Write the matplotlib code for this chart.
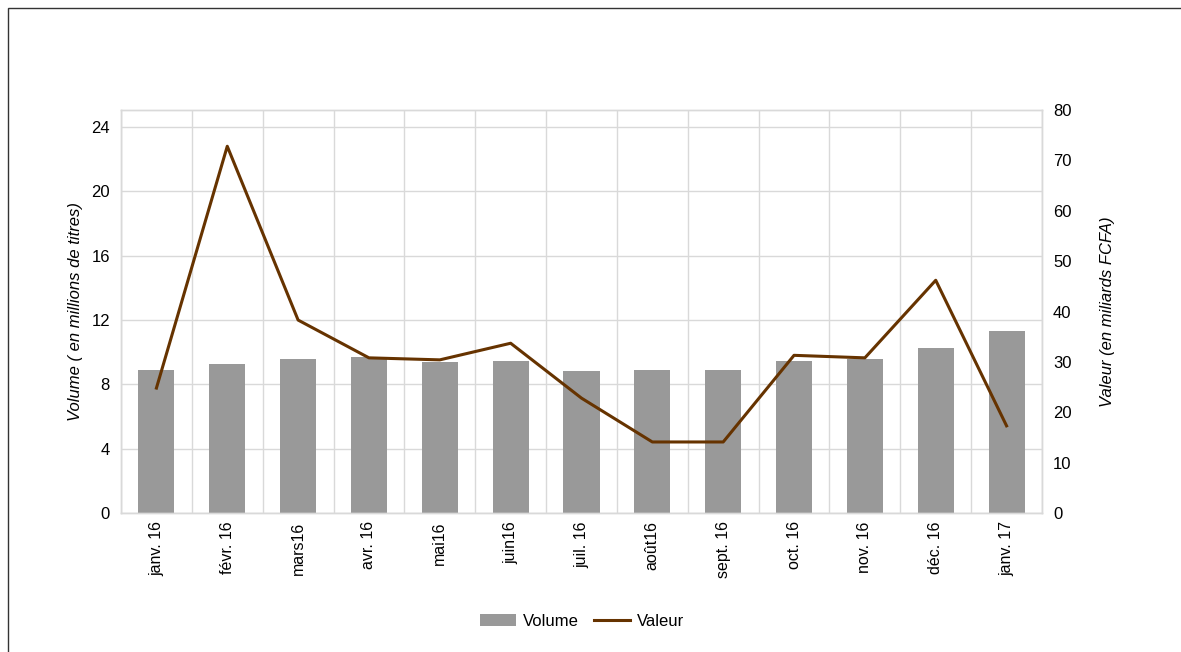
import matplotlib
matplotlib.use("Agg")
import matplotlib.pyplot as plt
from matplotlib.patches import Rectangle
import numpy as np

plt.rcParams['font.family'] = ['Liberation Sans', 'DejaVu Sans']

categories = ["janv. 16", "févr. 16", "mars16", "avr. 16", "mai16", "juin16", "juil. 16",
              "août16", "sept. 16", "oct. 16", "nov. 16", "déc. 16", "janv. 17"]
volume = [8.89, 9.27, 9.58, 9.70, 9.39, 9.45, 8.83, 8.89, 8.89, 9.45, 9.58, 10.26, 11.32]
valeur = [24.8, 72.8, 38.3, 30.8, 30.4, 33.7, 22.8, 14.1, 14.1, 31.3, 30.8, 46.2, 17.3]
left_ticks = [0, 4, 8, 12, 16, 20, 24]
right_ticks = [0, 10, 20, 30, 40, 50, 60, 70, 80]

W, H = 1181, 652
fig = plt.figure(figsize=(W / 100, H / 100), dpi=100)
ax = fig.add_axes([121 / W, 1 - 513 / H, (1042 - 121) / W, (513 - 110) / H])
ax2 = ax.twinx()

grid_c = "#d9d9d9"
x = np.arange(len(categories))
ax.bar(x, volume, width=0.51, color="#999999", zorder=2, label="Volume")
ax2.plot(x, valeur, color="#663300", lw=2.2, zorder=3, label="Valeur")

ax.set_xlim(-0.5, len(categories) - 0.5)
ax.set_ylim(0, 25.06)
ax2.set_ylim(0, 80)
ax.set_yticks(left_ticks)
ax2.set_yticks(right_ticks)
ax.set_xticks(x)
ax.set_xticklabels(categories, rotation=90, fontsize=11.5)
ax.set_xticks(np.arange(-0.5, len(categories)), minor=True)
ax.tick_params(axis='x', which='major', length=0, pad=6)
ax.tick_params(axis='x', which='minor', length=0)
ax.tick_params(axis='y', length=0, labelsize=12, pad=8)
ax2.tick_params(axis='y', length=0, labelsize=12, pad=8)

ax.grid(True, which='minor', axis='x', color=grid_c, lw=1, zorder=0)
ax.grid(True, which='major', axis='y', color=grid_c, lw=1, zorder=0)
ax.set_axisbelow(True)
for a in (ax, ax2):
    for s in a.spines.values():
        s.set_color(grid_c)
        s.set_linewidth(1)

ax.set_ylabel("Volume ( en millions de titres)", fontsize=12, style='italic', labelpad=6)
ax2.set_ylabel("Valeur (en miliards FCFA)", fontsize=12, style='italic', labelpad=20)

h1, l1 = ax.get_legend_handles_labels()
h2, l2 = ax2.get_legend_handles_labels()
fig.legend(h1 + h2, l1 + l2, loc='center', bbox_to_anchor=(582 / W, 1 - 621 / H),
           ncol=2, frameon=False, fontsize=12, handlelength=2.2, handletextpad=0.4,
           columnspacing=0.9)

fig.patches.append(Rectangle((8 / W, -0.1), 1.2, 1 - 8 / H + 0.1, transform=fig.transFigure,
                             fill=False, edgecolor="#333333", lw=1))

fig.savefig("out.png", dpi=100)
